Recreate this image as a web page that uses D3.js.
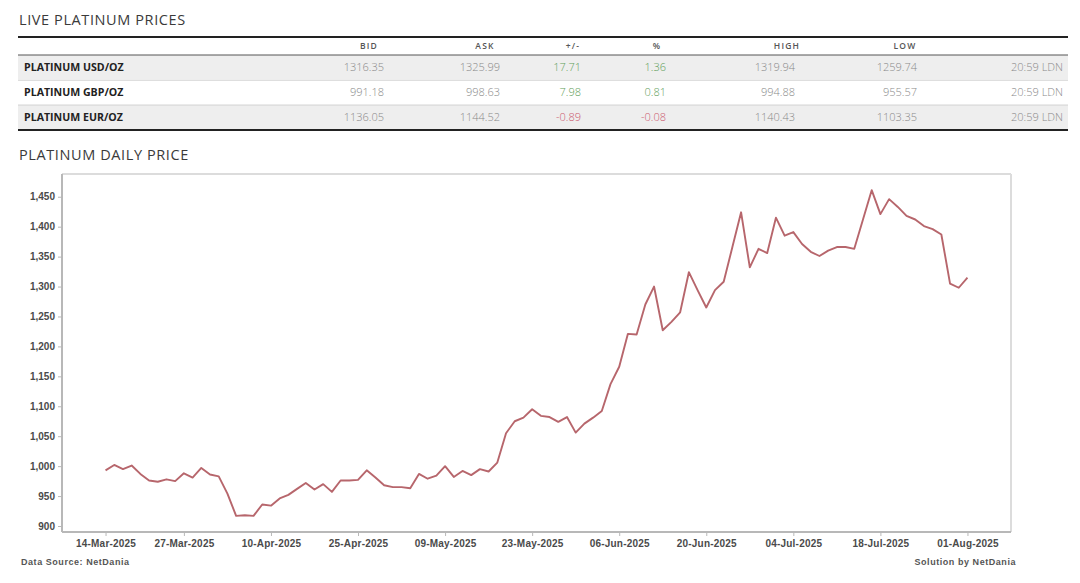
<!DOCTYPE html>
<html>
<head>
<meta charset="utf-8">
<script src="https://cdn.jsdelivr.net/npm/d3@7"></script>
<style>
  body { margin: 0; background: #fff; }
</style>
</head>
<body>
<div id="chart"></div>
<script>
// live price table
var instruments = ["PLATINUM USD/OZ", "PLATINUM GBP/OZ", "PLATINUM EUR/OZ"];
var bids = ["1316.35", "991.18", "1136.05"];
var asks = ["1325.99", "998.63", "1144.52"];
var changes = ["17.71", "7.98", "-0.89"];
var percents = ["1.36", "0.81", "-0.08"];
var highs = ["1319.94", "994.88", "1140.43"];
var lows = ["1259.74", "955.57", "1103.35"];
var times = ["20:59 LDN", "20:59 LDN", "20:59 LDN"];
var headers = ["BID", "ASK", "+/-", "%", "HIGH", "LOW"];

// daily price series
var dates = [
  "14-Mar-2025", "17-Mar-2025", "18-Mar-2025", "19-Mar-2025", "20-Mar-2025", "21-Mar-2025",
  "24-Mar-2025", "25-Mar-2025", "26-Mar-2025", "27-Mar-2025", "28-Mar-2025", "31-Mar-2025",
  "01-Apr-2025", "02-Apr-2025", "03-Apr-2025", "04-Apr-2025", "07-Apr-2025", "08-Apr-2025",
  "09-Apr-2025", "10-Apr-2025", "11-Apr-2025", "14-Apr-2025", "15-Apr-2025", "16-Apr-2025",
  "17-Apr-2025", "21-Apr-2025", "22-Apr-2025", "23-Apr-2025", "24-Apr-2025", "25-Apr-2025",
  "28-Apr-2025", "29-Apr-2025", "30-Apr-2025", "01-May-2025", "02-May-2025", "05-May-2025",
  "06-May-2025", "07-May-2025", "08-May-2025", "09-May-2025", "12-May-2025", "13-May-2025",
  "14-May-2025", "15-May-2025", "16-May-2025", "19-May-2025", "20-May-2025", "21-May-2025",
  "22-May-2025", "23-May-2025", "26-May-2025", "27-May-2025", "28-May-2025", "29-May-2025",
  "30-May-2025", "02-Jun-2025", "03-Jun-2025", "04-Jun-2025", "05-Jun-2025", "06-Jun-2025",
  "09-Jun-2025", "10-Jun-2025", "11-Jun-2025", "12-Jun-2025", "13-Jun-2025", "16-Jun-2025",
  "17-Jun-2025", "18-Jun-2025", "19-Jun-2025", "20-Jun-2025", "23-Jun-2025", "24-Jun-2025",
  "25-Jun-2025", "26-Jun-2025", "27-Jun-2025", "30-Jun-2025", "01-Jul-2025", "02-Jul-2025",
  "03-Jul-2025", "04-Jul-2025", "07-Jul-2025", "08-Jul-2025", "09-Jul-2025", "10-Jul-2025",
  "11-Jul-2025", "14-Jul-2025", "15-Jul-2025", "16-Jul-2025", "17-Jul-2025", "18-Jul-2025",
  "21-Jul-2025", "22-Jul-2025", "23-Jul-2025", "24-Jul-2025", "25-Jul-2025", "28-Jul-2025",
  "29-Jul-2025", "30-Jul-2025", "31-Jul-2025", "01-Aug-2025"
];
var prices = [
  993, 1002, 995, 1001, 987, 976,
  974, 978, 975, 988, 981, 997,
  986, 983, 954, 917, 918, 917,
  936, 934, 946, 952, 962, 972,
  961, 970, 957, 976, 976, 977,
  993, 981, 968, 965, 965, 963,
  987, 979, 984, 1000, 982, 992,
  985, 995, 991, 1006, 1055, 1075,
  1081, 1095, 1084, 1082, 1074, 1082,
  1056, 1071, 1081, 1092, 1137, 1166,
  1221, 1220, 1270, 1300, 1227, 1241,
  1257, 1324, 1294, 1265, 1294, 1308,
  1366, 1424, 1332, 1363, 1356, 1415,
  1385, 1391, 1371, 1358, 1351, 1360,
  1366, 1366, 1363, 1412, 1461, 1421,
  1446, 1433, 1418, 1412, 1401, 1396,
  1387, 1305, 1298, 1315
];
var xTickLabels = ["14-Mar-2025", "27-Mar-2025", "10-Apr-2025", "25-Apr-2025", "09-May-2025",
  "23-May-2025", "06-Jun-2025", "20-Jun-2025", "04-Jul-2025", "18-Jul-2025", "01-Aug-2025"];
var yTickValues = [900, 950, 1000, 1050, 1100, 1150, 1200, 1250, 1300, 1350, 1400, 1450];

var W = 1080, H = 583;
var svg = d3.select("#chart")
  .append("svg")
  .attr("width", W)
  .attr("height", H);

var titleFont = "'Open Sans', sans-serif";

// ---- table ----
svg.append("text")
  .attr("x", 19)
  .attr("y", 24.5)
  .style("font-family", titleFont)
  .style("font-size", "14.5px")
  .style("letter-spacing", "0.6px")
  .style("fill", "#3a3a3a")
  .text("LIVE PLATINUM PRICES");

var tLeft = 18, tRight = 1068;
var rowTop = 55, rowH = 24.8;
// right edges of the value columns, header centres
var colRight = [384, 500, 581, 666, 795, 917];
var colHead = [369, 485, 573, 657, 787, 905];

instruments.forEach(function (name, i) {
  var y0 = rowTop + i * rowH;
  svg.append("rect")
    .attr("x", tLeft)
    .attr("y", y0)
    .attr("width", tRight - tLeft)
    .attr("height", rowH)
    .attr("fill", i % 2 === 0 ? "#eeeeee" : "#ffffff");
  if (i > 0) {
    svg.append("line")
      .attr("x1", tLeft).attr("x2", tRight)
      .attr("y1", y0 + 0.5).attr("y2", y0 + 0.5)
      .style("stroke", "#d6d6d6");
  }
  var cy = y0 + rowH / 2 + 4;
  svg.append("text")
    .attr("x", 24)
    .attr("y", cy)
    .style("font-family", "'Open Sans', sans-serif")
    .style("font-size", "10.6px")
    .style("font-weight", "bold")
    .style("fill", "#222")
    .text(name);
  var cells = [bids[i], asks[i], changes[i], percents[i], highs[i], lows[i]];
  cells.forEach(function (v, j) {
    var col = "#8a8a8a";
    if (j === 2 || j === 3) col = (+v < 0) ? "#cc5a6e" : "#5f9e5a";
    svg.append("text")
      .attr("x", colRight[j])
      .attr("y", cy)
      .attr("text-anchor", "end")
      .style("font-family", "'Open Sans', sans-serif")
      .style("font-size", "11px")
      .style("font-weight", 300)
      .style("fill", col)
      .text(v);
  });
  svg.append("text")
    .attr("x", 1063)
    .attr("y", cy)
    .attr("text-anchor", "end")
    .style("font-family", "'Open Sans', sans-serif")
    .style("font-size", "11px")
    .style("font-weight", 300)
    .style("fill", "#8a8a8a")
    .text(times[i]);
});

headers.forEach(function (h, j) {
  svg.append("text")
    .attr("x", colHead[j])
    .attr("y", 49)
    .attr("text-anchor", "middle")
    .style("font-family", "'Open Sans', sans-serif")
    .style("font-size", "8.5px")
    .style("font-weight", 600)
    .style("letter-spacing", "1.2px")
    .style("fill", "#555")
    .text(h);
});

// table rules
svg.append("line")
  .attr("x1", tLeft).attr("x2", tRight)
  .attr("y1", 37).attr("y2", 37)
  .style("stroke", "#222").style("stroke-width", 2);
svg.append("line")
  .attr("x1", tLeft).attr("x2", tRight)
  .attr("y1", rowTop).attr("y2", rowTop)
  .style("stroke", "#555").style("stroke-width", 1);
svg.append("line")
  .attr("x1", tLeft).attr("x2", tRight)
  .attr("y1", rowTop + 3 * rowH + 0.5).attr("y2", rowTop + 3 * rowH + 0.5)
  .style("stroke", "#222").style("stroke-width", 2);

svg.append("text")
  .attr("x", 19)
  .attr("y", 160)
  .style("font-family", titleFont)
  .style("font-size", "14.5px")
  .style("letter-spacing", "0.6px")
  .style("fill", "#3a3a3a")
  .text("PLATINUM DAILY PRICE");

// ---- chart ----
var margin = { top: 174, right: 69, bottom: 51, left: 62 };
var width = W - margin.left - margin.right,
  height = H - margin.top - margin.bottom;

var g = svg.append("g")
  .attr("transform", "translate(" + margin.left + "," + margin.top + ")");

var x = d3.scalePoint()
  .domain(dates)
  .range([0, width])
  .padding(5);

var y = d3.scaleLinear()
  .domain([890, 1488])
  .range([height, 0]);

// frame (top and right)
g.append("line")
  .attr("x1", 0).attr("x2", width)
  .attr("y1", 0).attr("y2", 0)
  .style("stroke", "#dcdcdc").style("stroke-width", 2);
g.append("line")
  .attr("x1", width).attr("x2", width)
  .attr("y1", 0).attr("y2", height)
  .style("stroke", "#dcdcdc").style("stroke-width", 2);

var axisFont = "'Liberation Sans', Arial, sans-serif";

// Y axis
var yAxis = g.append("g")
  .call(d3.axisLeft(y).tickValues(yTickValues).tickSize(4).tickPadding(3).tickFormat(d3.format(",")));
yAxis.select(".domain")
  .attr("d", "M0,0V" + height)
  .style("stroke", "#b8b8b8").style("stroke-width", 2);
yAxis.selectAll(".tick line").style("stroke", "#b8b8b8");
yAxis.selectAll(".tick text")
  .style("font-family", axisFont)
  .style("font-size", "10px")
  .style("font-weight", "bold")
  .style("fill", "#4a4a4a");

// X axis
var xAxis = g.append("g")
  .attr("transform", "translate(0," + height + ")")
  .call(d3.axisBottom(x).tickValues(xTickLabels).tickSize(4).tickPadding(4));
xAxis.select(".domain")
  .attr("d", "M0,0H" + width)
  .style("stroke", "#b8b8b8").style("stroke-width", 2);
xAxis.selectAll(".tick line").style("stroke", "#b8b8b8");
xAxis.selectAll(".tick text")
  .style("font-family", axisFont)
  .style("font-size", "10px")
  .style("font-weight", "bold")
  .style("letter-spacing", "0.2px")
  .style("fill", "#4a4a4a");

// price line
var line = d3.line()
  .x(function (d, i) { return x(dates[i]); })
  .y(function (d) { return y(d); });

g.append("path")
  .datum(prices)
  .attr("fill", "none")
  .attr("stroke", "#b7666c")
  .attr("stroke-width", 1.9)
  .attr("stroke-linejoin", "round")
  .attr("d", line);

// footer
svg.append("text")
  .attr("x", 21)
  .attr("y", 564.5)
  .style("font-family", axisFont)
  .style("font-size", "9px")
  .style("font-weight", "bold")
  .style("letter-spacing", "0.55px")
  .style("fill", "#555")
  .text("Data Source: NetDania");
svg.append("text")
  .attr("x", 1016)
  .attr("y", 564.5)
  .attr("text-anchor", "end")
  .style("font-family", axisFont)
  .style("font-size", "9px")
  .style("font-weight", "bold")
  .style("letter-spacing", "0.55px")
  .style("fill", "#555")
  .text("Solution by NetDania");
</script>
</body>
</html>
